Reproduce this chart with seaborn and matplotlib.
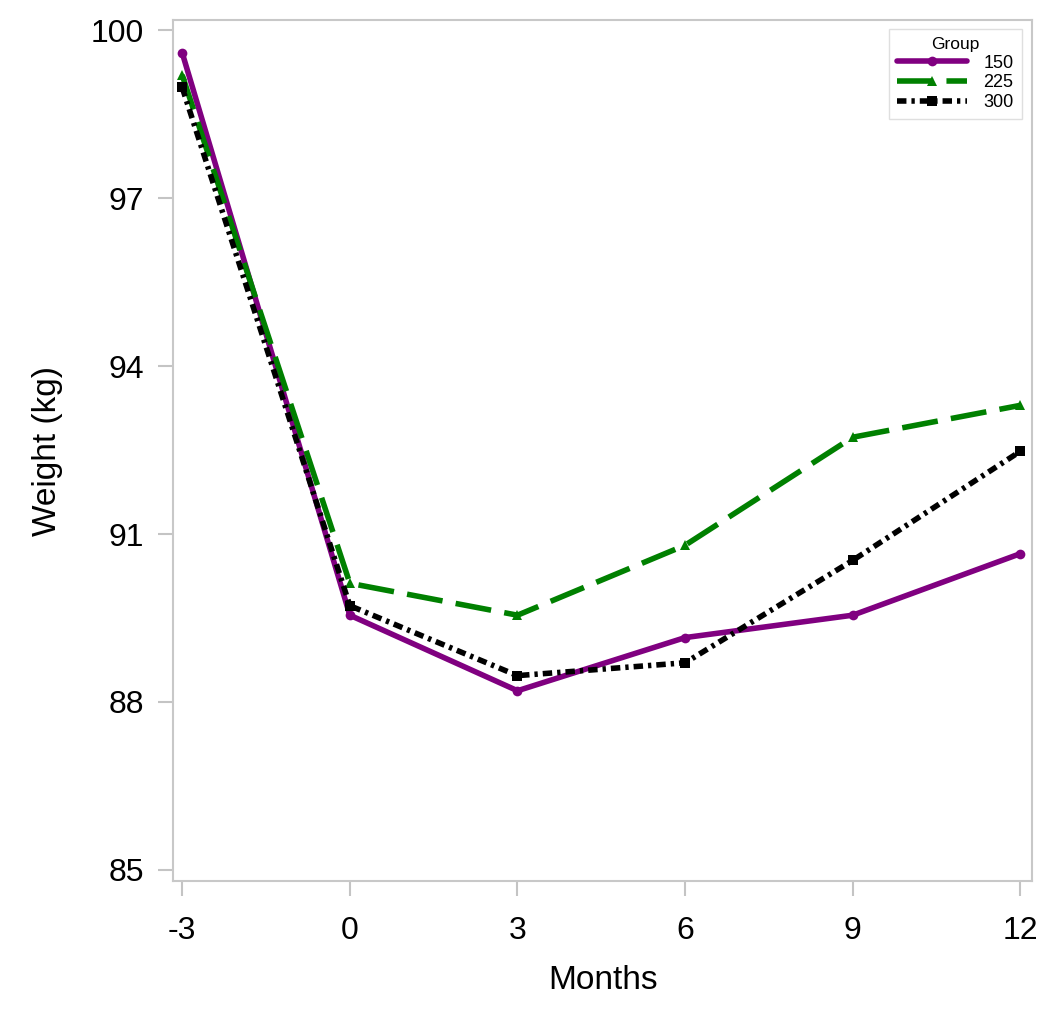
import matplotlib
matplotlib.use("Agg")
import matplotlib.pyplot as plt
import pandas as pd
import seaborn as sns

# values
months = [-3, 0, 3, 6, 9, 12]
w150 = [99.6, 89.55, 88.2, 89.15, 89.55, 90.65]
w225 = [99.2, 90.12, 89.55, 90.8, 92.73, 93.3]
w300 = [98.98, 89.72, 88.47, 88.7, 90.53, 92.48]
groups = ["150", "225", "300"]
yticks = [85, 88, 91, 94, 97, 100]
xticks = [-3, 0, 3, 6, 9, 12]

df = pd.DataFrame({
    "Months": months * 3,
    "Weight": w150 + w225 + w300,
    "Group": [g for g in groups for _ in months],
})

sns.set_style("white")
plt.rcParams["font.family"] = ["Liberation Sans", "DejaVu Sans"]
plt.rcParams["axes.unicode_minus"] = False
plt.rcParams["text.color"] = "black"
plt.rcParams["axes.labelcolor"] = "black"
plt.rcParams["xtick.color"] = "black"
plt.rcParams["ytick.color"] = "black"

fig = plt.figure(figsize=(10.5, 10.15), dpi=100)
ax = fig.add_axes([0.165, 0.132, 0.818, 0.848])

pal = {"150": "#800080", "225": "#008000", "300": "#000000"}
dash = {"150": "", "225": (6.5, 2.4), "300": (1.7, 0.9, 0.6, 0.9)}
mk = {"150": "o", "225": "^", "300": "s"}

sns.lineplot(data=df, x="Months", y="Weight", hue="Group", style="Group",
             palette=pal, dashes=dash, markers=mk, markersize=7,
             markeredgewidth=0, linewidth=4, ax=ax)

ax.set_xlim(-3.16, 12.21)
ax.set_ylim(84.8, 100.18)
ax.set_xticks(xticks)
ax.set_yticks(yticks)
ax.tick_params(axis="both", direction="out", length=11, width=1.5,
               color="#c4c4c4", labelcolor="black", labelsize=23, pad=10,
               bottom=True, left=True)
ax.tick_params(axis="x", pad=14)
for s in ax.spines.values():
    s.set_color("#c8c8c8")
    s.set_linewidth(1.5)

ax.set_xlabel("Months", fontsize=24, labelpad=14)
ax.set_ylabel("Weight (kg)", fontsize=24, labelpad=20)

leg = ax.legend(title="Group", loc="upper right", bbox_to_anchor=(0.988, 0.99),
                fontsize=13, title_fontsize=12.5, frameon=True, fancybox=False,
                handlelength=3.9, handletextpad=0.9, borderpad=0.45,
                labelspacing=0.15, borderaxespad=0.0)
leg.get_frame().set_edgecolor("#d8d8d8")
leg.get_frame().set_linewidth(1.0)
for line in leg.get_lines():
    line.set_linewidth(4)

fig.savefig("out.png", dpi=100)
